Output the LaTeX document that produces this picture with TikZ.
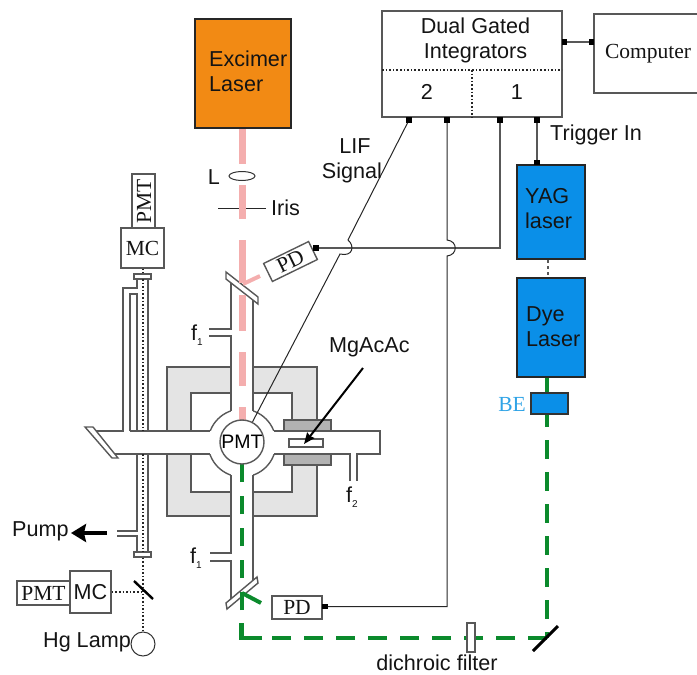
\documentclass[tikz,border=0pt]{standalone}
\usepackage{fontspec}
\setmainfont{Liberation Sans}
\newfontfamily\serifface{Liberation Serif}
\usetikzlibrary{calc,shapes.geometric,arrows.meta}
\newcommand{\Unit}{1pt}
\newcommand{\Wall}{1.4pt}
\definecolor{excimer}{HTML}{F28A14}
\definecolor{blue}{HTML}{0A8FE8}
\definecolor{beblue}{HTML}{2FA3E6}
\definecolor{pink}{HTML}{F4AEAE}
\definecolor{green}{HTML}{0B8A2C}
\definecolor{wall}{HTML}{585858}
\definecolor{frame}{HTML}{E4E4E4}
\definecolor{block}{HTML}{B2B2B2}
\definecolor{ink}{HTML}{141414}
\newcommand{\Sub}[1]{\raisebox{-5pt}{\fontsize{10}{10}\selectfont #1}}
\tikzset{
  txt/.style={font=\fontsize{21.6}{25}\selectfont,text=ink,inner sep=0pt,align=left},
  stxt/.style={font=\serifface\fontsize{21.5}{25}\selectfont,text=ink,inner sep=0pt},
  box/.style={draw=wall,line width=\Wall,fill=white,inner sep=0pt},
  laser/.style={draw=black!85,line width=2.2pt,inner sep=0pt},
  port/.style={fill=black,inner sep=0pt,minimum size=5.5pt},
  wire/.style={black!85,line width=1pt},
  tube/.style={wall,line width=\Wall},
  pinkbeam/.style={pink,line width=7pt},
  greenbeam/.style={green,line width=4.6pt},
  probe/.style={black!85,dash pattern=on 1.6pt off 2pt,line width=1.2pt},
}

\begin{document}
\begin{tikzpicture}[x=\Unit,y=-\Unit, line join=miter]
  \useasboundingbox (0,0) rectangle (697,675);

  % ---- oven frame and heater blocks ---------------------------------------
  \fill[frame,draw=wall,line width=\Wall,even odd rule]
    (167,367) rectangle (317,516) (191,393) rectangle (292,492);
  \fill[block,draw=wall,line width=\Wall] (284,420) rectangle (331,431);
  \fill[block,draw=wall,line width=\Wall] (284,454) rectangle (331,465);

  % ---- chamber: white inside first, walls after ---------------------------
  \fill[white,draw=wall,line width=\Wall] (242,443) circle (34);
  \fill[white] (90,431) rectangle (380,454);
  \fill[white] (231,290) rectangle (253,590);
  \draw[tube] (231,283) -- (231,329) -- (209,329);
  \draw[tube] (209,336) -- (231,336) -- (231,411);
  \draw[tube] (253,300) -- (253,411);
  \draw[tube] (231,475) -- (231,553) -- (210,553);
  \draw[tube] (210,561) -- (231,561) -- (231,601);
  \draw[tube] (253,475) -- (253,581);
  \draw[tube] (96,431) -- (123,431) -- (123,288) -- (137,288) -- (137,279);
  \draw[tube] (130,431) -- (130,294) -- (137,294) -- (137,431);
  \draw[tube] (148,279) -- (148,431);
  \draw[tube] (130,431) -- (210,431);
  \draw[tube] (115,454) -- (210,454);
  \draw[tube] (274,431) -- (380,431) -- (380,454) -- (357,454) -- (357,481);
  \draw[tube] (350,481) -- (350,454) -- (274,454);
  \draw[tube] (137,454) -- (137,531) -- (117,531);
  \draw[tube] (117,536) -- (137,536) -- (137,552);
  \draw[tube] (148,454) -- (148,552);

  % ---- windows -------------------------------------------------------------
  \fill[white,draw=wall,line width=\Wall] (226,272) -- (258,297) -- (258,304) -- (226,279) -- cycle;
  \fill[white,draw=wall,line width=\Wall] (226,603) -- (257,577) -- (258,583) -- (227,609) -- cycle;
  \fill[white,draw=wall,line width=\Wall] (85,427) -- (93,427) -- (118,458) -- (112,458) -- cycle;
  \node[box,minimum width=17pt,minimum height=5pt] (captop) at (142.5,276.5) {};
  \node[box,minimum width=17pt,minimum height=5pt] (caplow) at (142.5,554.5) {};
  \node[box,minimum width=34pt,minimum height=8pt] (sample) at (306,443) {};

  % ---- excimer beam --------------------------------------------------------
  \draw[wire] (218,208) -- (266,208);
  \foreach \a/\b in {128/164,185/219,240/283,295/331,352/386,407/423} {
    \draw[pinkbeam] (242.5,\a) -- (242.5,\b);
  }
  \draw[pink,line width=4pt] (243,284) -- (260,276);

  % ---- dye beam ------------------------------------------------------------
  \draw[greenbeam,dash pattern=on 19pt off 13pt,dash phase=7pt] (547,415) -- (547,638);
  \draw[greenbeam,dash pattern=on 19pt off 13pt] (547,638) -- (272,638);
  \draw[greenbeam] (262,638) -- (241.5,638) -- (241.5,623);
  \draw[greenbeam,dash pattern=on 18pt off 14pt] (242,610) -- (242,464);
  \draw[greenbeam] (547,377) -- (547,394);
  \draw[green,line width=4pt] (242,593) -- (261,603);
  \draw[black,line width=3pt] (533,651) -- (558,626);
  \node[box,minimum width=8pt,minimum height=29pt] (filter) at (471,637.5) {};

  % ---- lasers, integrators, computer ---------------------------------------
  \node[laser,fill=excimer,minimum width=96pt,minimum height=109pt] (excimer) at (243,73.5) {};
  \node[laser,fill=blue,minimum width=68pt,minimum height=94pt] (yag) at (551,212) {};
  \node[laser,fill=blue,minimum width=68pt,minimum height=99pt] (dye) at (551,327.5) {};
  \node[draw=black!80,line width=1.2pt,fill=blue,inner sep=0pt,minimum width=37pt,minimum height=21pt] (be) at (549.5,403.5) {};
  \node[box,minimum width=180pt,minimum height=106pt] (integ) at (472,64) {};
  \node[box,minimum width=108pt,minimum height=79pt,stxt] (computer) at (648,53.5) {\raisebox{3.5pt}{Computer}};
  \draw[probe] (382,70) -- (562,70);
  \draw[probe] (472,70) -- (472,117);
  \draw[wall,dashed,line width=1.2pt] (yag.south -| 548,0) -- (dye.north -| 548,0);

  % ---- detectors -----------------------------------------------------------
  \node[box,minimum width=50pt,minimum height=20pt,rotate=26,stxt] (pdtop) at (290.5,261.5) {PD};
  \node[box,minimum width=50pt,minimum height=23pt,stxt] (pdlow) at (297,607.5) {PD};
  \node[box,minimum width=23pt,minimum height=54pt] (pmttop) at (143.5,201) {};
  \node[stxt,rotate=90] (pmttoptext) at (144,201) {PMT};
  \node[box,minimum width=43pt,minimum height=40pt,stxt] (mctop) at (142.5,248) {MC};
  \node[box,minimum width=53pt,minimum height=24pt,stxt] (pmtlow) at (43.5,593) {PMT};
  \node[box,minimum width=41pt,minimum height=42pt,txt] (mclow) at (90.5,592) {MC};
  \node[box,circle,minimum size=44pt,font=\fontsize{19.5}{22}\selectfont] (pmt) at (242,442) {PMT};
  \node[draw=black!80,line width=1pt,fill=white,circle,inner sep=0pt,minimum size=24pt] (lamp) at (143,644) {};
  \node[draw=black!80,line width=1pt,ellipse,inner sep=0pt,minimum width=26pt,minimum height=9pt] (lens) at (242,176) {};

  % ---- probe light ---------------------------------------------------------
  \draw[probe] (mctop.south -| 143,0) -- (captop.north -| 143,0);
  \draw[probe] (143,279) -- (143,431);
  \draw[probe] (143,454) -- (143,552);
  \draw[probe] (caplow.south -| 143,0) -- (lamp.north);
  \draw[probe] (mclow.east) -- (143,592);
  \draw[black,line width=2.4pt] (134,581) -- (153,599);

  % ---- ports and signal cables ---------------------------------------------
  \foreach \n/\x in {a/409,b/447,c/500,d/537} {
    \node[port] (port\n) at (\x,120) {};
  }
  \node[port] (portyag) at (537,162.5) {};
  \node[port] (portout) at (564.5,42) {};
  \node[port] (portcomp) at (591.5,42) {};
  \node[port] (portpdtop) at (316,248) {};
  \node[port] (portpdlow) at (325,606.5) {};
  \coordinate (hopaup) at (348,240);
  \coordinate (hopadn) at (340,254);
  \coordinate (hopbup) at (447,240);
  \coordinate (hopbdn) at (447,256);
  \draw[wall,line width=1.4pt] (portd) -- (portyag);
  \draw[wall,line width=1.4pt] (portout) -- (portcomp);
  \draw[wall,line width=1.4pt] (portpdtop) -| (portc);
  \draw[wire] (porta) -- (hopaup) .. controls (355,246) and (353,257) .. (hopadn) -- (pmt);
  \draw[wire] (portb) -- (hopbup) .. controls (458,241) and (458,255) .. (hopbdn) |- (portpdlow);

  % ---- labels --------------------------------------------------------------
  \node[txt,anchor=west] (excimertext) at (209,71) {Excimer\\Laser};
  \node[txt,anchor=west] (yagtext) at (525,209) {YAG\\laser};
  \node[txt,anchor=west] (dyetext) at (526,327) {Dye\\Laser};
  \node[txt,align=center] (dualtext) at (475.5,40.5) {Dual Gated\\Integrators};
  \node[txt] (twotext) at (427,92) {2};
  \node[txt] (onetext) at (517,92) {1};
  \node[txt,anchor=west] (trigger) at (550,135) {Trigger In};
  \node[txt,align=center] (lif) at (352,160.5) {\hspace*{6pt}LIF\\Signal};
  \node[txt] (ltext) at (214,177) {L};
  \node[txt,anchor=west] (iris) at (271,208) {Iris};
  \node[txt,anchor=west] (mgacac) at (329,347) {MgAcAc};
  \node[txt] (fa) at (197,335) {f\Sub{1}};
  \node[txt] (fb) at (196,558) {f\Sub{1}};
  \node[txt] (fc) at (352,497) {f\Sub{2}};
  \node[txt,anchor=west] (pump) at (12,531) {Pump};
  \node[txt,anchor=east] (hg) at (131,642) {Hg Lamp};
  \node[txt] (dichroic) at (437,663) {dichroic filter};
  \node[stxt,text=beblue] (betext) at (512,404) {BE};

  % ---- the two heavy arrows ------------------------------------------------
  \coordinate (pumpend) at (107,533);
  \coordinate (pumptip) at (71,533);
  \coordinate (sampleend) at (363,368);
  \coordinate (sampletip) at (304,444);
  \draw[black,line width=3.2pt,-{Stealth[length=15pt,width=18pt,inset=2pt]}] (pumpend) -- (pumptip);
  \draw[black,line width=2pt,-{Stealth[length=11pt,width=9pt,inset=1pt]}] (sampleend) -- (sampletip);

\end{tikzpicture}
\end{document}
